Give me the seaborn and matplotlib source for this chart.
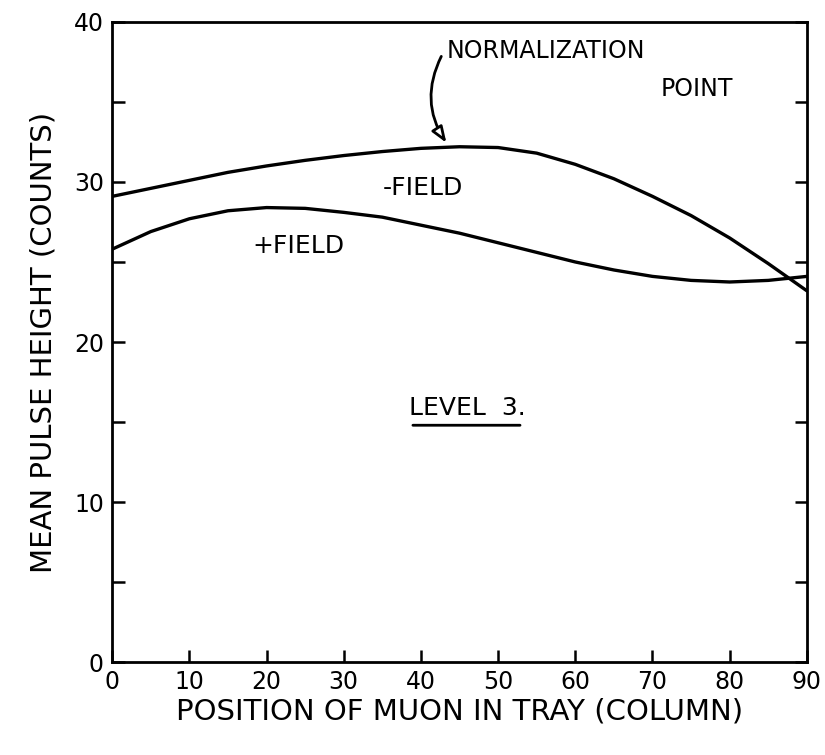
import numpy as np
import pandas as pd
import matplotlib
matplotlib.use('Agg')
import matplotlib.pyplot as plt
import seaborn as sns
from matplotlib.ticker import MultipleLocator

# --- data ---
position = [0, 5, 10, 15, 20, 25, 30, 35, 40, 45, 50, 55, 60, 65, 70, 75, 80, 85, 90]
minus_field = [29.1, 29.6, 30.1, 30.6, 31.0, 31.35, 31.65, 31.9, 32.1, 32.2, 32.15,
               31.8, 31.1, 30.2, 29.1, 27.9, 26.5, 24.9, 23.2]
plus_field = [25.8, 26.9, 27.7, 28.2, 28.4, 28.35, 28.1, 27.8, 27.3, 26.8, 26.2,
              25.6, 25.0, 24.5, 24.1, 23.85, 23.75, 23.85, 24.1]
x_ticks = [0, 10, 20, 30, 40, 50, 60, 70, 80, 90]
y_ticks = [0, 10, 20, 30, 40]

df = pd.DataFrame({
    'Position': position * 2,
    'Height': minus_field + plus_field,
    'Field': ['-FIELD'] * len(position) + ['+FIELD'] * len(position),
})

sns.set_theme(style='white')
plt.rcParams['font.family'] = ['DejaVu Sans']
plt.rcParams['text.color'] = 'black'
plt.rcParams['axes.labelcolor'] = 'black'

fig = plt.figure(figsize=(8.25, 7.55), dpi=100)
ax = fig.add_axes([0.136, 0.123, 0.842, 0.848])

sns.lineplot(data=df, x='Position', y='Height', hue='Field',
             palette=['black', 'black'], linewidth=2.4, legend=False, ax=ax)

ax.set_xlim(0, 90)
ax.set_ylim(0, 40)
ax.set_xticks(x_ticks)
ax.set_yticks(y_ticks)
ax.yaxis.set_minor_locator(MultipleLocator(5))

for side in ['left', 'right', 'top', 'bottom']:
    ax.spines[side].set_color('black')
    ax.spines[side].set_linewidth(2.0)

ax.tick_params(axis='both', which='both', direction='in', length=9, width=1.8,
               labelsize=17, colors='black', pad=6)
ax.tick_params(axis='y', which='both', left=True, right=True)
ax.tick_params(axis='x', which='both', bottom=True, top=False)

ax.set_xlabel('POSITION OF MUON IN TRAY (COLUMN)', fontsize=21, color='black', labelpad=2)
ax.set_ylabel('MEAN PULSE HEIGHT (COUNTS)', fontsize=21, color='black', labelpad=12)

# annotations
ax.text(43.3, 38.2, 'NORMALIZATION', fontsize=17, ha='left', va='center', color='black')
ax.text(80.5, 35.8, 'POINT', fontsize=17, ha='right', va='center', color='black')
ax.annotate('', xy=(43.5, 32.3), xytext=(42.8, 38.0),
            arrowprops=dict(arrowstyle='-|>,head_length=0.8,head_width=0.3',
                            color='black', lw=2, fc='white',
                            connectionstyle='arc3,rad=0.3'))
ax.text(35.0, 29.6, '-FIELD', fontsize=18, ha='left', va='center', color='black')
ax.text(18.2, 26.0, '+FIELD', fontsize=18, ha='left', va='center', color='black')
ax.text(38.5, 15.9, 'LEVEL  3.', fontsize=18, ha='left', va='center', color='black')
ax.annotate('', xy=(38.6, 14.8), xytext=(53.2, 14.8),
            arrowprops=dict(arrowstyle='-', color='black', lw=2))

fig.savefig('out.png', dpi=100)
